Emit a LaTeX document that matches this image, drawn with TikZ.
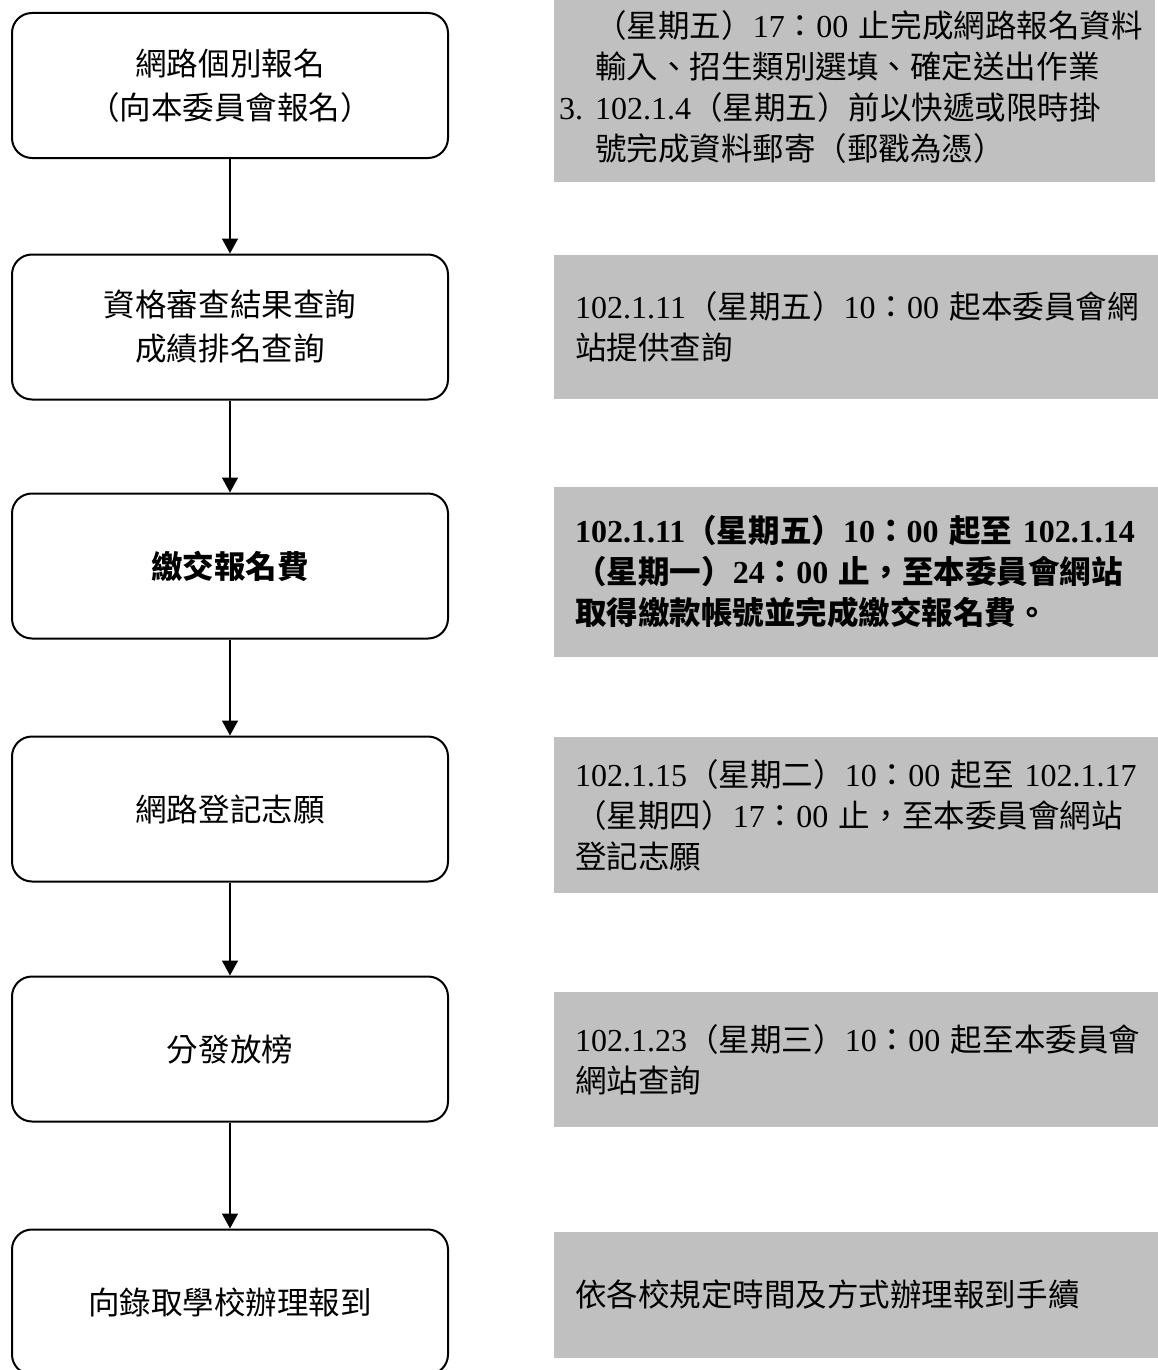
\documentclass[tikz,border=0pt]{standalone}
\usepackage{fontspec}
\setmainfont{Liberation Serif}
\newfontfamily\cjk[Scale=0.985]{Noto Sans CJK TC}
\newcommand{\zh}[1]{{\cjk #1}}
\usetikzlibrary{arrows.meta}
\definecolor{notegray}{RGB}{192,192,192}

\begin{document}
\begin{tikzpicture}[x=1pt,y=-1pt,
		stepbox/.style={draw,line width=2pt,rounded corners=20pt,minimum width=436pt,minimum height=145pt,align=center,font=\fontsize{32}{44}\selectfont},
		note/.style={fill=notegray,anchor=west,text width=575pt,inner xsep=21pt,align=left,font=\fontsize{32}{41}\selectfont},
		flow/.style={line width=1.6pt,-{Triangle[length=15pt,width=16pt]}}]
		\useasboundingbox (0,0) rectangle (1157,1370);
		% steps
		\node[stepbox] (reg) at (230,85.5) {\zh{網路個別報名}\\\zh{（向本委員會報名）}};
		\node[stepbox] (check) at (230,327) {\zh{資格審查結果查詢}\\\zh{成績排名查詢}};
		\node[stepbox,font=\fontsize{32}{44}\selectfont\bfseries] (fee) at (230,566) {\zh{繳交報名費}};
		\node[stepbox] (wish) at (230,809) {\zh{網路登記志願}};
		\node[stepbox] (result) at (230,1049) {\zh{分發放榜}};
		\node[stepbox] (report) at (230,1302) {\zh{向錄取學校辦理報到}};
		% arrows between steps
		\draw[flow] (reg) -- (check);
		\draw[flow] (check) -- (fee);
		\draw[flow] (fee) -- (wish);
		\draw[flow] (wish) -- (result);
		\draw[flow] (result) -- (report);
		% date notes
		\node[note,inner xsep=5pt,text width=591pt,minimum height=190pt] (regnote) at (554,87) {%
			\hspace*{36pt}\zh{（星期五）}17\zh{：}00 \zh{止完成網路報名資料}\\
			\hspace*{36pt}\zh{輸入、招生類別選填、確定送出作業}\\
			\makebox[36pt][l]{3.}102.1.4\zh{（星期五）前以快遞或限時掛}\\
			\hspace*{36pt}\zh{號完成資料郵寄（郵戳為憑）}};
		\node[note,minimum height=144pt] (checknote) at (554,327) {%
			102.1.11\zh{（星期五）}10\zh{：}00 \zh{起本委員會網}\\
			\zh{站提供查詢}};
		\node[note,minimum height=170pt,font=\fontsize{32}{41}\selectfont\bfseries] (feenote) at (554,572) {%
			102.1.11\zh{（星期五）}10\zh{：}00 \zh{起至} 102.1.14\\
			\zh{（星期一）}24\zh{：}00 \zh{止，至本委員會網站}\\
			\zh{取得繳款帳號並完成繳交報名費。}};
		\node[note,minimum height=156pt] (wishnote) at (554,815) {%
			102.1.15\zh{（星期二）}10\zh{：}00 \zh{起至} 102.1.17\\
			\zh{（星期四）}17\zh{：}00 \zh{止，至本委員會網站}\\
			\zh{登記志願}};
		\node[note,minimum height=135pt] (resultnote) at (554,1059.5) {%
			102.1.23\zh{（星期三）}10\zh{：}00 \zh{起至本委員會}\\
			\zh{網站查詢}};
		\node[note,minimum height=126pt] (reportnote) at (554,1295) {%
			\zh{依各校規定時間及方式辦理報到手續}};
	\end{tikzpicture}
\end{document}
